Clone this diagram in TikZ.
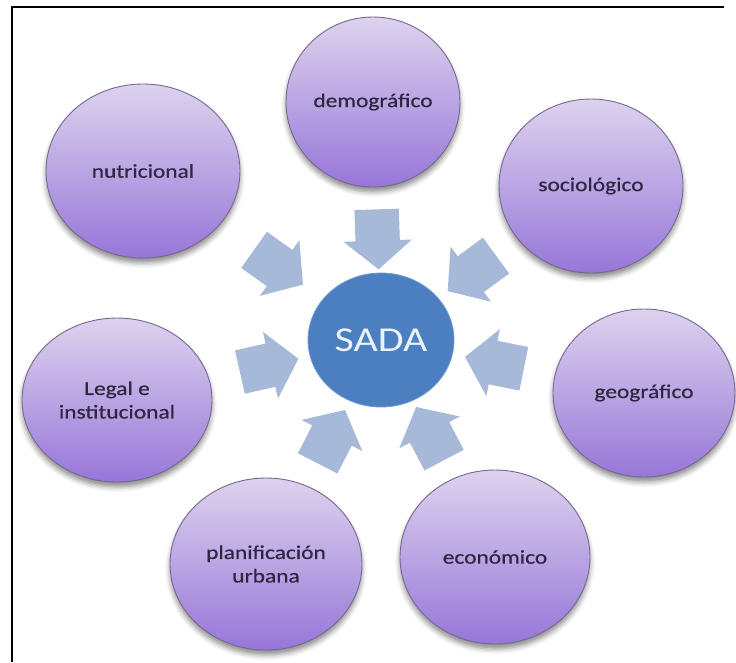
\documentclass[tikz,border=0pt]{standalone}
\usepackage{fontspec}
\setmainfont{Carlito}
\newfontfamily\labfont[FakeStretch=1.2,FakeBold=0.6]{Carlito}
\newfontfamily\corefont[FakeStretch=1.2]{Carlito}
\usetikzlibrary{shapes.geometric,shapes.arrows,calc,shadows.blur}
\definecolor{lavtop}{HTML}{DDD2EE}
\definecolor{lavmid}{HTML}{BAA5E3}
\definecolor{lavbot}{HTML}{9776D9}
\definecolor{lavline}{HTML}{76688F}
\definecolor{labtext}{HTML}{2F2742}
\definecolor{sadafill}{HTML}{4C7FBF}
\definecolor{sadaline}{HTML}{6F9BD2}
\definecolor{sadatext}{HTML}{EAF2FB}
\definecolor{arrowfill}{HTML}{A7B9D8}
\begin{document}
\begin{tikzpicture}[x=1pt,y=-1pt,
  factor/.style={ellipse, draw=lavline, line width=0.9pt,
    top color=lavtop, bottom color=lavbot, middle color=lavmid,
    inner sep=0pt, align=center, text=labtext,
    font=\labfont\fontsize{19.5}{23.5}\selectfont,
    blur shadow={shadow xshift=0pt, shadow yshift=-5pt, shadow blur radius=5pt, shadow opacity=45}},
  core/.style={ellipse, fill=sadafill, draw=sadaline, line width=0.8pt,
    inner sep=0pt, text=sadatext,
    font=\corefont\fontsize{35}{40}\selectfont},
  blockarrow/.style={single arrow, fill=arrowfill, draw=none,
    inner xsep=0pt, inner ysep=22pt,
    minimum height=60pt,
    single arrow head extend=12pt, single arrow tip angle=100}
]
\useasboundingbox (0,0) rectangle (736,662);

% frame
\draw[line width=2.5pt] (724,7) -- (12,7) -- (12,662);

% centre
\node[core, minimum width=146pt, minimum height=134pt] (sada) at (381,340) {SADA};

% factors
\node[factor, minimum width=174pt, minimum height=170pt] (demo) at (373,102) {demográfico};
\node[factor, minimum width=194pt, minimum height=174pt] (nutri) at (143,171) {nutricional};
\node[factor, minimum width=184pt, minimum height=174pt] (socio) at (591,186) {sociológico};
\node[factor, minimum width=182pt, minimum height=168pt] (geo) at (644,393) {geográfico};
\node[factor, minimum width=190pt, minimum height=164pt] (legal) at (117,400) {Legal e\\institucional};
\node[factor, minimum width=192pt, minimum height=172pt] (plan) at (266,564) {planificación\\urbana};
\node[factor, minimum width=190pt, minimum height=174pt] (econ) at (495,557) {económico};

% block arrows pointing to the centre
\path let \p1=($(sada)-(demo)$), \n1={atan2(\y1,\x1)} in
  node[blockarrow, rotate=\n1] (ademo) at ($(sada)!110pt!(demo)$) {};
\path let \p1=($(sada)-(nutri)$), \n1={atan2(\y1,\x1)} in
  node[blockarrow, rotate=\n1] (anutri) at ($(sada)!135pt!(nutri)$) {};
\path let \p1=($(sada)-(socio)$), \n1={atan2(\y1,\x1)} in
  node[blockarrow, rotate=\n1] (asocio) at ($(sada)!122pt!(socio)$) {};
\path let \p1=($(sada)-(geo)$), \n1={atan2(\y1,\x1)} in
  node[blockarrow, rotate=\n1] (ageo) at ($(sada)!125pt!(geo)$) {};
\path let \p1=($(sada)-(legal)$), \n1={atan2(\y1,\x1)} in
  node[blockarrow, rotate=\n1] (alegal) at ($(sada)!124pt!(legal)$) {};
\path let \p1=($(sada)-(plan)$), \n1={atan2(\y1,\x1)} in
  node[blockarrow, rotate=\n1] (aplan) at ($(sada)!118pt!(plan)$) {};
\path let \p1=($(sada)-(econ)$), \n1={atan2(\y1,\x1)} in
  node[blockarrow, rotate=\n1] (aecon) at ($(sada)!115pt!(econ)$) {};
\end{tikzpicture}
\end{document}
